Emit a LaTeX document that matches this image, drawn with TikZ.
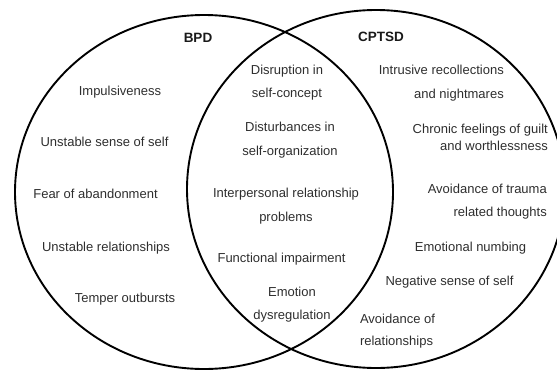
\documentclass[tikz,border=0pt]{standalone}
\usepackage{fontspec}
\setmainfont{Liberation Sans}
\begin{document}
\begin{tikzpicture}[x=1pt,y=-1pt,
  ring/.style={draw=black,line width=1.9pt},
  lbl/.style={text=black!82,font=\fontsize{13}{16}\selectfont,inner sep=0pt},
  ttl/.style={text=black!90,font=\fontsize{13.5}{16}\selectfont\bfseries,inner sep=0pt}]
\useasboundingbox (0,0) rectangle (557,372);
\draw[ring] (204,192) ellipse [x radius=189, y radius=177];
\draw[ring] (376,189) ellipse [x radius=189, y radius=179];
\node[ttl] (bpd) at (198,38) {BPD};
\node[ttl] (cptsd) at (381,37) {CPTSD};
% left
\node[lbl] (l1) at (120,92) {Impulsiveness};
\node[lbl] (l2) at (104.5,142) {Unstable sense of self};
\node[lbl] (l3) at (95.5,194) {Fear of abandonment};
\node[lbl] (l4) at (106,248) {Unstable relationships};
\node[lbl] (l5) at (125,299) {Temper outbursts};
% middle
\node[lbl,align=center] (m1) at (287,82.5) {Disruption in\\[7.5pt]self-concept};
\node[lbl,align=center] (m2) at (290,140) {Disturbances in\\[8pt]self-organization};
\node[lbl,align=center] (m3) at (286,206) {Interpersonal relationship\\[8pt]problems};
\node[lbl] (m4) at (281.5,259) {Functional impairment};
\node[lbl,align=center] (m5) at (292,304.5) {Emotion\\[7.5pt]dysregulation};
% right
\node[lbl,align=right,anchor=east] (r1) at (504,83) {Intrusive recollections\\[8pt]and nightmares};
\node[lbl,align=right,anchor=east] (r2) at (548,137.5) {Chronic feelings of guilt\\[1pt]and worthlessness};
\node[lbl,align=right,anchor=east] (r3) at (547,201.5) {Avoidance of trauma\\[7.5pt]related thoughts};
\node[lbl] (r4) at (470.5,248) {Emotional numbing};
\node[lbl] (r5) at (449.5,282) {Negative sense of self};
\node[lbl,align=left] (r6) at (397.5,331) {Avoidance of\\[6pt]relationships};
\end{tikzpicture}
\end{document}
